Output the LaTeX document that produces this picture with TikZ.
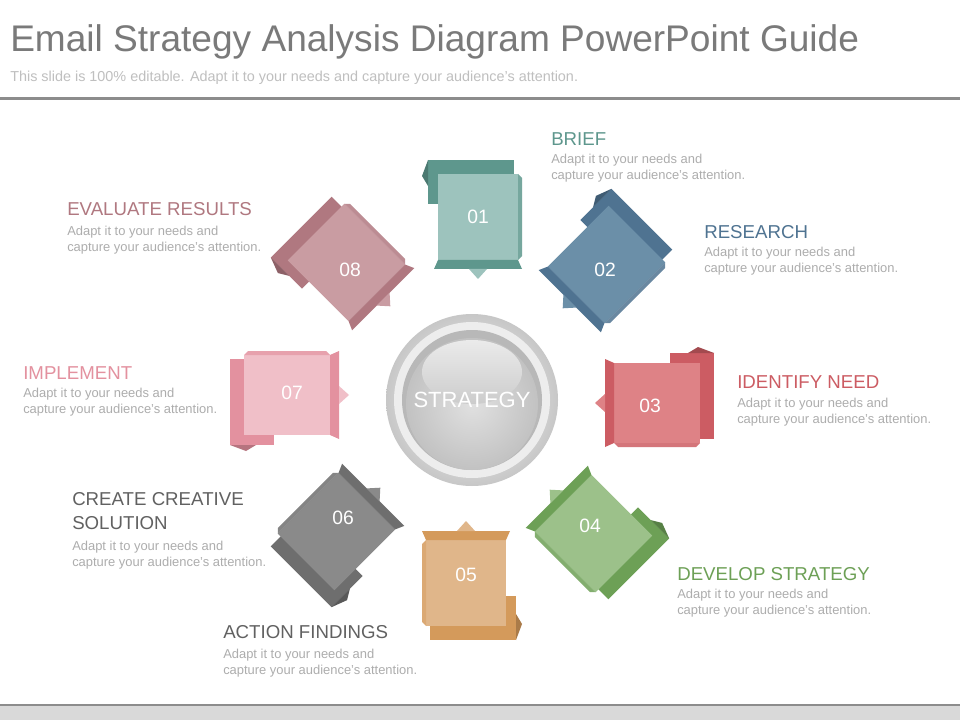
\documentclass[tikz,border=0pt]{standalone}
\usepackage{fontspec}
\setmainfont{Liberation Sans}
\tikzset{
  head/.style={anchor=west,inner sep=0,font=\fontsize{14}{16}\selectfont},
  body/.style={anchor=north west,inner sep=0,align=left,text=black!32,font=\fontsize{9.7}{12}\selectfont},
  num/.style={text=white,font=\fontsize{14.5}{16}\selectfont},
  pics/tile/.style 2 args={code={
    \fill[#2] (-50,18) rectangle (36,62);
    \fill[#2!80!black] (-56,46) -- (-50,62) -- (-50,36) -- cycle;
    \fill[#1] (-40,-38) rectangle (40,48);
    \fill[#2!85!white] (40,-38) -- (44,-34) -- (44,44) -- (40,48) -- cycle;
    \fill[#2] (-40,-38) -- (40,-38) -- (44,-47) -- (-44,-47) -- cycle;
    \fill[#1] (-9,-47) -- (9,-47) -- (0,-57) -- cycle;
  }}}
\definecolor{c1}{HTML}{9DC3BD}\definecolor{d1}{HTML}{5E978D}
\definecolor{c2}{HTML}{6B8FA8}\definecolor{d2}{HTML}{4F7391}
\definecolor{c3}{HTML}{DE8286}\definecolor{d3}{HTML}{CC5C63}
\definecolor{c4}{HTML}{9CC18A}\definecolor{d4}{HTML}{6DA056}
\definecolor{c5}{HTML}{E0B68A}\definecolor{d5}{HTML}{D49A5B}
\definecolor{c6}{HTML}{8A8A8A}\definecolor{d6}{HTML}{6E6E6E}
\definecolor{c7}{HTML}{F0BFC8}\definecolor{d7}{HTML}{E3919F}
\definecolor{c8}{HTML}{C99CA2}\definecolor{d8}{HTML}{B07880}
\begin{document}
\begin{tikzpicture}[x=0.75pt,y=0.75pt]
\useasboundingbox (0,0) rectangle (960,-720);
\fill[white] (0,0) rectangle (960,-720);
% header
\node[anchor=west,inner sep=0,text=black!52,font=\fontsize{27.8}{30}\selectfont] (title) at (10,-42) {Email Strategy Analysis Diagram PowerPoint Guide};
\node[anchor=west,inner sep=0,text=black!25,font=\fontsize{10.8}{12}\selectfont] (sub) at (10,-78) {This slide is 100\% editable. Adapt it to your needs and capture your audience's attention.};
\fill[black!45] (0,-97) rectangle (960,-100);
\fill[black!15] (0,-706) rectangle (960,-720);
\fill[black!45] (0,-704) rectangle (960,-706);
% tiles
\pic[rotate=0] at (478,-222) {tile={c1}{d1}};
\pic[rotate=-45] at (603,-268) {tile={c2}{d2}};
\pic[rotate=-90] at (652,-403) {tile={c3}{d3}};
\pic[rotate=-135] at (590,-530) {tile={c4}{d4}};
\pic[rotate=180] at (466,-578) {tile={c5}{d5}};
\pic[rotate=135] at (340,-528) {tile={c6}{d6}};
\pic[rotate=90] at (292,-395) {tile={c7}{d7}};
\pic[rotate=45] at (350,-266) {tile={c8}{d8}};
\node[num] (n1) at (478,-217) {01};
\node[num] (n2) at (605,-270) {02};
\node[num] (n3) at (650,-406) {03};
\node[num] (n4) at (590,-526) {04};
\node[num] (n5) at (466,-575) {05};
\node[num] (n6) at (343,-518) {06};
\node[num] (n7) at (292,-393) {07};
\node[num] (n8) at (350,-270) {08};
% center
\shade[inner color=white,outer color=black!22] (472,-400) circle (86);
\fill[black!7] (472,-400) circle (78);
\fill[black!28] (472,-400) circle (70);
\shade[inner color=black!12,outer color=black!24] (472,-404) circle (66);
\shade[top color=black!8,bottom color=black!20] (472,-372) ellipse (50 and 32);
\node[text=white,font=\fontsize{16.5}{18}\selectfont] (strat) at (472,-400) {STRATEGY};
% labels
\node[head,text=d1] (h1) at (551,-139) {BRIEF};
\node[body] (b1) at (551,-154) {Adapt it to your needs and\\capture your audience's attention.};
\node[head,text=d2] (h2) at (704,-232) {RESEARCH};
\node[body] (b2) at (704,-247) {Adapt it to your needs and\\capture your audience's attention.};
\node[head,text=d3] (h3) at (737,-382) {IDENTIFY NEED};
\node[body] (b3) at (737,-398) {Adapt it to your needs and\\capture your audience's attention.};
\node[head,text=d4] (h4) at (677,-574) {DEVELOP STRATEGY};
\node[body] (b4) at (677,-589) {Adapt it to your needs and\\capture your audience's attention.};
\node[head,text=black!62] (h5) at (223,-632) {ACTION FINDINGS};
\node[body] (b5) at (223,-649) {Adapt it to your needs and\\capture your audience's attention.};
\node[head,text=black!62,anchor=north west,align=left,font=\fontsize{14}{18}\selectfont] (h6) at (72,-492) {CREATE CREATIVE\\SOLUTION};
\node[body] (b6) at (72,-541) {Adapt it to your needs and\\capture your audience's attention.};
\node[head,text=d7] (h7) at (23,-373) {IMPLEMENT};
\node[body] (b7) at (23,-388) {Adapt it to your needs and\\capture your audience's attention.};
\node[head,text=d8] (h8) at (67,-209) {EVALUATE RESULTS};
\node[body] (b8) at (67,-226) {Adapt it to your needs and\\capture your audience's attention.};
\end{tikzpicture}
\end{document}
